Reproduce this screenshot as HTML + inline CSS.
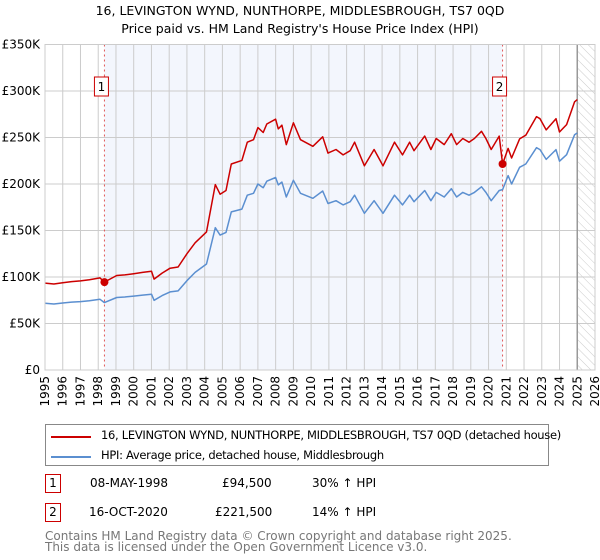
<!DOCTYPE html>
<html><head><meta charset="utf-8"><style>
body{margin:0;background:#fff;font-family:"Liberation Sans","DejaVu Sans",sans-serif;}
#wrap{position:relative;width:600px;height:560px;overflow:hidden;}
.t{position:absolute;left:0;width:600px;text-align:center;font-size:12.5px;color:#000;font-family:"DejaVu Sans","Liberation Sans",sans-serif;}
.leg{position:absolute;left:45px;top:424px;width:504px;height:42px;border:1px solid #888;box-sizing:border-box;font-size:11.5px;font-family:"DejaVu Sans",sans-serif;white-space:nowrap;letter-spacing:-0.3px;}
.row{position:absolute;font-size:12px;font-family:"DejaVu Sans",sans-serif;}
.box{position:absolute;border:1px solid #c00;width:14px;height:17px;text-align:center;line-height:17px;font-size:12px;font-family:"DejaVu Sans",sans-serif;}
.foot{position:absolute;left:45px;top:531px;font-size:12px;color:#777;line-height:11px;font-family:"DejaVu Sans",sans-serif;}
</style></head><body><div id="wrap">
<div class="t" style="top:3px">16, LEVINGTON WYND, NUNTHORPE, MIDDLESBROUGH, TS7 0QD</div>
<div class="t" style="top:21px">Price paid vs. HM Land Registry's House Price Index (HPI)</div>
<svg id="svg" width="600" height="420" style="position:absolute;left:0;top:0"></svg>
<div class="leg">
 <div style="position:absolute;left:5px;top:11px;width:40px;height:2px;background:#cc0000"></div>
 <div style="position:absolute;left:55px;top:3px">16, LEVINGTON WYND, NUNTHORPE, MIDDLESBROUGH, TS7 0QD (detached house)</div>
 <div style="position:absolute;left:5px;top:31px;width:40px;height:2px;background:#5b8fd0"></div>
 <div style="position:absolute;left:55px;top:23px">HPI: Average price, detached house, Middlesbrough</div>
</div>
<div class="box" style="left:45px;top:474px">1</div>
<div class="row" style="left:90px;top:476px">08-MAY-1998</div>
<div class="row" style="left:222px;top:476px">£94,500</div>
<div class="row" style="left:312px;top:476px">30% ↑ HPI</div>
<div class="box" style="left:45px;top:503px">2</div>
<div class="row" style="left:89px;top:505px">16-OCT-2020</div>
<div class="row" style="left:215px;top:505px">£221,500</div>
<div class="row" style="left:312px;top:505px">14% ↑ HPI</div>
<div class="foot">Contains HM Land Registry data © Crown copyright and database right 2025.<br>This data is licensed under the Open Government Licence v3.0.</div>
</div>
<script>
const years=[1995.0,1995.5,1996.0,1996.5,1997.0,1997.5,1998.1,1998.35,1999.04,1999.5,2000.0,2000.5,2001.0,2001.15,2001.6,2002.05,2002.5,2003.0,2003.46,2004.1,2004.6,2004.87,2005.2,2005.5,2006.1,2006.4,2006.75,2007.0,2007.3,2007.5,2008.0,2008.15,2008.35,2008.6,2009.0,2009.4,2010.1,2010.65,2010.95,2011.4,2011.8,2012.2,2012.45,2013.0,2013.55,2014.05,2014.7,2015.15,2015.55,2015.8,2016.4,2016.75,2017.05,2017.5,2017.9,2018.2,2018.55,2018.9,2019.2,2019.6,2019.85,2020.15,2020.6,2020.79,2021.1,2021.3,2021.75,2022.1,2022.7,2022.9,2023.25,2023.8,2024.0,2024.4,2024.85,2025.0];
const hpi=[71.7,71,72,73,73.5,74.5,76,72.5,78,78.5,79.5,80.5,81.5,75,80,84,85,96,105,114,153,145,148,170,173,188,190,200,196,203,207,199,202,186,204,190,184.6,192.5,179,182,177.5,181,188,168.5,182,168.5,188,177.5,188,181,193,182,191,186,195,186,191,188,191,197,191,182,193,194,209,200,218,221.5,239,237,226.5,237,224.5,231.5,253,255];
const price=[93.4,92.5,93.8,95,95.8,97,99,94.5,101.6,102.3,103.6,104.9,106.2,97.7,104.2,109.5,110.8,125,136.8,148.5,199.4,189,193,221.5,225.4,245,247.6,260.6,255.4,264.5,269.7,259.3,263.2,242.4,265.8,247.6,240.5,250.8,233.2,237.1,231.3,235.8,245,219.6,237.1,219.6,245,231.3,245,235.8,251.5,237.1,248.9,242.4,254.1,242.4,248.9,245,248.9,256.7,248.9,237.1,251.5,221.5,238.3,228,248.5,252.5,272.5,270.2,258.2,270.2,255.9,263.9,288.4,290.7];
const yTicks=[0,50,100,150,200,250,300,350];
const yTickLabels=["£0","£50K","£100K","£150K","£200K","£250K","£300K","£350K"];
const xTicks=[1995,1996,1997,1998,1999,2000,2001,2002,2003,2004,2005,2006,2007,2008,2009,2010,2011,2012,2013,2014,2015,2016,2017,2018,2019,2020,2021,2022,2023,2024,2025,2026];
const sales=[{n:"1",year:1998.35,value:94.5},{n:"2",year:2020.79,value:221.5}];
const X0=45,X1=595,Y0=370,Y1=44.5;
const xs=y=>X0+(y-1995)/(2026-1995)*(X1-X0);
const ys=v=>Y0-v/350*(Y0-Y1);
const NS="http://www.w3.org/2000/svg",svg=document.getElementById('svg');
function mk(t,a,p){const e=document.createElementNS(NS,t);for(const k in a)e.setAttribute(k,a[k]);(p||svg).appendChild(e);return e;}
const defs=mk('defs',{});
const pat=mk('pattern',{id:'hatch',width:6,height:6,patternUnits:'userSpaceOnUse',patternTransform:'rotate(-45)'},defs);
mk('line',{x1:0,y1:0,x2:0,y2:6,stroke:'#ccc','stroke-width':1},pat);
let r=mk('rect',{x:xs(sales[0].year),y:Y1,width:xs(sales[1].year)-xs(sales[0].year),height:Y0-Y1,fill:'#f3f6fd'});

r=mk('rect',{x:xs(2025),y:Y1,width:xs(2026)-xs(2025),height:Y0-Y1,fill:'url(#hatch)'});

yTicks.forEach((v,i)=>{const l=mk('line',{x1:X0,x2:X1,y1:ys(v),y2:ys(v),stroke:'#ccc'});

const t=mk('text',{x:40,y:ys(v)+4,'text-anchor':'end','font-size':12,'font-family':'DejaVu Sans, Liberation Sans, sans-serif'});t.textContent=yTickLabels[i];
});
xTicks.forEach(y=>{const l=mk('line',{x1:xs(y),x2:xs(y),y1:Y1,y2:Y0,stroke:'#ccc'});

const t=mk('text',{x:0,y:0,'text-anchor':'end','font-size':12,'font-family':'DejaVu Sans, Liberation Sans, sans-serif',transform:`translate(${xs(y)+4},376) rotate(-90)`});t.textContent=y;
});
r=mk('line',{x1:xs(2025),x2:xs(2025),y1:Y1,y2:Y0,stroke:'#999','stroke-width':1.5});

sales.forEach(s=>{const l=mk('line',{x1:xs(s.year),x2:xs(s.year),y1:Y1,y2:Y0,stroke:'#e05555','stroke-dasharray':'2,3'});
});
function path(vals,col,name){const d=vals.map((v,i)=>(i?'L':'M')+xs(years[i]).toFixed(1)+','+ys(v).toFixed(1)).join('');
const p=mk('path',{d,fill:'none',stroke:col,'stroke-width':1.5,'stroke-linejoin':'round'});
}
path(hpi,'#5b8fd0','hpi-line');path(price,'#cc0000','price-line');
sales.forEach(s=>{const c=mk('circle',{cx:xs(s.year),cy:ys(s.value),r:4,fill:'#cc0000'});

const g=mk('g',{});
mk('rect',{x:xs(s.year)-10,y:77,width:14,height:19,fill:'#fff',stroke:'#c00'},g);
const t=mk('text',{x:xs(s.year)-3,y:91,'text-anchor':'middle','font-size':12,'font-family':'DejaVu Sans, sans-serif'},g);t.textContent=s.n;});
r=mk('rect',{x:X0,y:Y1,width:X1-X0,height:Y0-Y1,fill:'none',stroke:'#ccc'});

</script></body></html>
